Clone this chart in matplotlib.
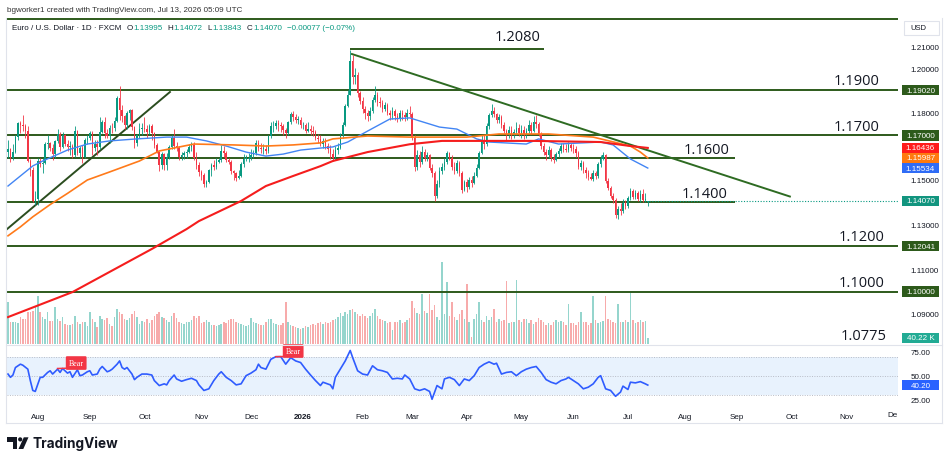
import numpy as np
import matplotlib.pyplot as plt
from matplotlib.patches import Rectangle, Polygon, Circle

plt.rcParams['font.family'] = ['Liberation Sans', 'DejaVu Sans']

# EUR/USD daily bars, Jul 16 2025 .. Jul 13 2026 (x axis = bar number)
opens = [
    1.1625, 1.1640, 1.1597, 1.1626, 1.1693, 1.1754, 1.1744, 1.1742, 1.1720, 1.1587, 1.1545, 1.1404,
    1.1415, 1.1587, 1.1571, 1.1575, 1.1660, 1.1665, 1.1642, 1.1617, 1.1676, 1.1705, 1.1647, 1.1703, 1.1662, 1.1648, 1.1650, 1.1610, 1.1718, 1.1622, 1.1641, 1.1605, 1.1681,
    1.1686, 1.1710, 1.1641, 1.1660, 1.1647, 1.1717, 1.1760, 1.1710, 1.1696, 1.1735, 1.1733, 1.1763, 1.1867, 1.1814, 1.1787, 1.1745, 1.1800, 1.1815, 1.1737, 1.1665, 1.1702, 1.1727,
    1.1734, 1.1730, 1.1716, 1.1740, 1.1710, 1.1658, 1.1627, 1.1565, 1.1617, 1.1569, 1.1605, 1.1647, 1.1689, 1.1653, 1.1643, 1.1602, 1.1610, 1.1619, 1.1627, 1.1646, 1.1658, 1.1600, 1.1566,
    1.1535, 1.1521, 1.1483, 1.1493, 1.1545, 1.1565, 1.1560, 1.1580, 1.1590, 1.1630, 1.1620, 1.1590, 1.1580, 1.1540, 1.1530, 1.1510, 1.1520, 1.1570, 1.1595, 1.1595,
    1.1600, 1.1610, 1.1620, 1.1665, 1.1645, 1.1640, 1.1640, 1.1630, 1.1695, 1.1740, 1.1740, 1.1755, 1.1745, 1.1740, 1.1725, 1.1710, 1.1760, 1.1795, 1.1780, 1.1770, 1.1770, 1.1745, 1.1745,
    1.1720, 1.1730, 1.1720, 1.1715, 1.1690, 1.1685, 1.1660, 1.1675, 1.1650, 1.1640, 1.1615, 1.1600, 1.1635, 1.1645, 1.1700, 1.1745, 1.1830, 1.1880, 1.2035, 1.1960, 1.1970, 1.1890,
    1.1855, 1.1820, 1.1800, 1.1785, 1.1810, 1.1860, 1.1880, 1.1850, 1.1845, 1.1820, 1.1835, 1.1800, 1.1790, 1.1810, 1.1785, 1.1775, 1.1800, 1.1790, 1.1780, 1.1800,
    1.1795, 1.1690, 1.1560, 1.1610, 1.1580, 1.1625, 1.1600, 1.1610, 1.1555, 1.1530, 1.1430, 1.1480, 1.1540, 1.1560, 1.1580, 1.1620, 1.1600, 1.1560, 1.1540, 1.1575, 1.1530, 1.1455,
    1.1490, 1.1470, 1.1500, 1.1485, 1.1520, 1.1555, 1.1620, 1.1680, 1.1660, 1.1740, 1.1790, 1.1810, 1.1795, 1.1770, 1.1780, 1.1745, 1.1720, 1.1700, 1.1725, 1.1700, 1.1715, 1.1735,
    1.1710, 1.1725, 1.1700, 1.1720, 1.1745, 1.1720, 1.1760, 1.1750, 1.1705, 1.1650, 1.1625, 1.1610, 1.1635, 1.1600, 1.1590, 1.1615, 1.1630, 1.1650, 1.1640, 1.1635, 1.1655,
    1.1645, 1.1640, 1.1620, 1.1560, 1.1575, 1.1545, 1.1530, 1.1515, 1.1505, 1.1530, 1.1520, 1.1570, 1.1595, 1.1610, 1.1495, 1.1465, 1.1430, 1.1410, 1.1345, 1.1370, 1.1360, 1.1395,
    1.1385, 1.1420, 1.1450, 1.1425, 1.1440, 1.1415, 1.1435, 1.1410, 1.13995,
]
highs = [
    1.1680, 1.1645, 1.1660, 1.1700, 1.1760, 1.1765, 1.1789, 1.1750, 1.1740, 1.1595, 1.1560, 1.1450,
    1.1600, 1.1600, 1.1600, 1.1670, 1.1700, 1.1670, 1.1660, 1.1680, 1.1730, 1.1715, 1.1715, 1.1705, 1.1680, 1.1675, 1.1660, 1.1740, 1.1725, 1.1650, 1.1655, 1.1690, 1.1700,
    1.1720, 1.1720, 1.1680, 1.1680, 1.1780, 1.1770, 1.1780, 1.1730, 1.1745, 1.1755, 1.1780, 1.1878, 1.1919, 1.1835, 1.1790, 1.1810, 1.1820, 1.1820, 1.1740, 1.1705, 1.1755, 1.1755,
    1.1780, 1.1745, 1.1750, 1.1750, 1.1715, 1.1665, 1.1630, 1.1625, 1.1620, 1.1620, 1.1655, 1.1700, 1.1728, 1.1670, 1.1650, 1.1625, 1.1630, 1.1640, 1.1660, 1.1670, 1.1670, 1.1625, 1.1580,
    1.1545, 1.1530, 1.1500, 1.1550, 1.1575, 1.1590, 1.1600, 1.1600, 1.1655, 1.1650, 1.1630, 1.1600, 1.1590, 1.1545, 1.1535, 1.1545, 1.1580, 1.1615, 1.1610, 1.1620,
    1.1640, 1.1635, 1.1680, 1.1680, 1.1665, 1.1660, 1.1655, 1.1700, 1.1760, 1.1765, 1.1770, 1.1770, 1.1760, 1.1750, 1.1735, 1.1765, 1.1805, 1.1808, 1.1795, 1.1785, 1.1780, 1.1760, 1.1755,
    1.1760, 1.1745, 1.1740, 1.1725, 1.1705, 1.1700, 1.1690, 1.1690, 1.1665, 1.1655, 1.1640, 1.1650, 1.1665, 1.1710, 1.1760, 1.1840, 1.1905, 1.2082, 1.2060, 1.2000, 1.1985, 1.1900,
    1.1870, 1.1830, 1.1815, 1.1825, 1.1870, 1.1920, 1.1895, 1.1870, 1.1860, 1.1850, 1.1845, 1.1815, 1.1825, 1.1820, 1.1800, 1.1815, 1.1815, 1.1805, 1.1820, 1.1830,
    1.1805, 1.1700, 1.1635, 1.1630, 1.1650, 1.1640, 1.1625, 1.1615, 1.1570, 1.1540, 1.1500, 1.1560, 1.1575, 1.1600, 1.1630, 1.1625, 1.1610, 1.1580, 1.1590, 1.1585, 1.1540, 1.1500,
    1.1505, 1.1515, 1.1520, 1.1535, 1.1570, 1.1630, 1.1700, 1.1700, 1.1755, 1.1800, 1.1840, 1.1825, 1.1800, 1.1795, 1.1790, 1.1760, 1.1730, 1.1740, 1.1740, 1.1730, 1.1760, 1.1750,
    1.1745, 1.1740, 1.1735, 1.1770, 1.1760, 1.1785, 1.1790, 1.1760, 1.1715, 1.1665, 1.1640, 1.1650, 1.1645, 1.1615, 1.1625, 1.1645, 1.1665, 1.1665, 1.1660, 1.1670, 1.1665,
    1.1660, 1.1650, 1.1630, 1.1590, 1.1585, 1.1560, 1.1545, 1.1530, 1.1545, 1.1540, 1.1580, 1.1610, 1.1625, 1.1615, 1.1510, 1.1475, 1.1440, 1.1420, 1.1385, 1.1395, 1.1415, 1.1410,
    1.1430, 1.1465, 1.1460, 1.1455, 1.1450, 1.1455, 1.1460, 1.1440, 1.14072,
]
lows = [
    1.1600, 1.1580, 1.1590, 1.1620, 1.1680, 1.1710, 1.1720, 1.1690, 1.1580, 1.1520, 1.1400, 1.1390,
    1.1390, 1.1560, 1.1530, 1.1570, 1.1640, 1.1630, 1.1590, 1.1600, 1.1665, 1.1630, 1.1645, 1.1650, 1.1630, 1.1610, 1.1600, 1.1605, 1.1610, 1.1600, 1.1575, 1.1600, 1.1660,
    1.1680, 1.1610, 1.1630, 1.1610, 1.1640, 1.1710, 1.1690, 1.1690, 1.1665, 1.1710, 1.1720, 1.1760, 1.1770, 1.1760, 1.1730, 1.1730, 1.1770, 1.1725, 1.1645, 1.1650, 1.1690, 1.1700,
    1.1715, 1.1690, 1.1705, 1.1680, 1.1645, 1.1620, 1.1540, 1.1550, 1.1545, 1.1545, 1.1595, 1.1640, 1.1640, 1.1630, 1.1590, 1.1590, 1.1595, 1.1600, 1.1620, 1.1630, 1.1590, 1.1550, 1.1520,
    1.1500, 1.1470, 1.1470, 1.1485, 1.1520, 1.1545, 1.1550, 1.1575, 1.1580, 1.1605, 1.1580, 1.1570, 1.1525, 1.1500, 1.1495, 1.1505, 1.1515, 1.1560, 1.1585, 1.1580,
    1.1590, 1.1600, 1.1610, 1.1630, 1.1620, 1.1615, 1.1615, 1.1620, 1.1690, 1.1715, 1.1730, 1.1720, 1.1715, 1.1700, 1.1690, 1.1700, 1.1750, 1.1765, 1.1755, 1.1750, 1.1735, 1.1730, 1.1710,
    1.1715, 1.1700, 1.1695, 1.1680, 1.1665, 1.1650, 1.1645, 1.1640, 1.1620, 1.1595, 1.1585, 1.1590, 1.1615, 1.1640, 1.1690, 1.1740, 1.1825, 1.1880, 1.1930, 1.1930, 1.1870, 1.1840,
    1.1800, 1.1775, 1.1765, 1.1770, 1.1800, 1.1850, 1.1830, 1.1825, 1.1805, 1.1810, 1.1790, 1.1770, 1.1775, 1.1770, 1.1760, 1.1765, 1.1770, 1.1765, 1.1770, 1.1780,
    1.1680, 1.1540, 1.1545, 1.1560, 1.1570, 1.1585, 1.1585, 1.1545, 1.1515, 1.1406, 1.1420, 1.1470, 1.1525, 1.1545, 1.1570, 1.1590, 1.1545, 1.1525, 1.1530, 1.1520, 1.1440, 1.1450,
    1.1445, 1.1460, 1.1470, 1.1480, 1.1515, 1.1550, 1.1615, 1.1640, 1.1650, 1.1730, 1.1780, 1.1780, 1.1755, 1.1755, 1.1735, 1.1710, 1.1680, 1.1690, 1.1685, 1.1690, 1.1700, 1.1695,
    1.1690, 1.1685, 1.1690, 1.1710, 1.1705, 1.1715, 1.1735, 1.1695, 1.1640, 1.1610, 1.1590, 1.1600, 1.1585, 1.1575, 1.1585, 1.1605, 1.1620, 1.1625, 1.1625, 1.1625, 1.1630,
    1.1620, 1.1605, 1.1550, 1.1545, 1.1530, 1.1510, 1.1500, 1.1500, 1.1495, 1.1505, 1.1510, 1.1560, 1.1590, 1.1485, 1.1455, 1.1420, 1.1395, 1.1330, 1.1325, 1.1345, 1.1350, 1.1370,
    1.1375, 1.1410, 1.1415, 1.1415, 1.1405, 1.1400, 1.1400, 1.1400, 1.13843,
]
closes = [
    1.1640, 1.1597, 1.1626, 1.1693, 1.1754, 1.1744, 1.1742, 1.1720, 1.1587, 1.1545, 1.1404, 1.1415,
    1.1587, 1.1571, 1.1575, 1.1660, 1.1665, 1.1642, 1.1617, 1.1676, 1.1705, 1.1647, 1.1703, 1.1662, 1.1648, 1.1650, 1.1610, 1.1718, 1.1622, 1.1641, 1.1605, 1.1681, 1.1686,
    1.1710, 1.1641, 1.1660, 1.1647, 1.1717, 1.1760, 1.1710, 1.1696, 1.1735, 1.1733, 1.1763, 1.1867, 1.1814, 1.1787, 1.1745, 1.1800, 1.1815, 1.1737, 1.1665, 1.1702, 1.1727, 1.1734,
    1.1730, 1.1716, 1.1740, 1.1710, 1.1658, 1.1627, 1.1565, 1.1617, 1.1569, 1.1605, 1.1647, 1.1689, 1.1653, 1.1643, 1.1602, 1.1610, 1.1619, 1.1627, 1.1646, 1.1658, 1.1600, 1.1566, 1.1535,
    1.1521, 1.1483, 1.1493, 1.1545, 1.1565, 1.1560, 1.1580, 1.1590, 1.1630, 1.1620, 1.1590, 1.1580, 1.1540, 1.1530, 1.1510, 1.1520, 1.1570, 1.1595, 1.1595, 1.1600,
    1.1610, 1.1620, 1.1665, 1.1645, 1.1640, 1.1640, 1.1630, 1.1695, 1.1740, 1.1740, 1.1755, 1.1745, 1.1740, 1.1725, 1.1710, 1.1760, 1.1795, 1.1780, 1.1770, 1.1770, 1.1745, 1.1745, 1.1720,
    1.1730, 1.1720, 1.1715, 1.1690, 1.1685, 1.1660, 1.1675, 1.1650, 1.1640, 1.1615, 1.1600, 1.1635, 1.1645, 1.1700, 1.1745, 1.1830, 1.1880, 1.2035, 1.1960, 1.1970, 1.1890, 1.1855,
    1.1820, 1.1800, 1.1785, 1.1810, 1.1860, 1.1880, 1.1850, 1.1845, 1.1820, 1.1835, 1.1800, 1.1790, 1.1810, 1.1785, 1.1775, 1.1800, 1.1790, 1.1780, 1.1800, 1.1795,
    1.1690, 1.1560, 1.1610, 1.1580, 1.1625, 1.1600, 1.1610, 1.1555, 1.1530, 1.1430, 1.1480, 1.1540, 1.1560, 1.1580, 1.1620, 1.1600, 1.1560, 1.1540, 1.1575, 1.1530, 1.1455, 1.1490,
    1.1470, 1.1500, 1.1485, 1.1520, 1.1555, 1.1620, 1.1680, 1.1660, 1.1740, 1.1790, 1.1810, 1.1795, 1.1770, 1.1780, 1.1745, 1.1720, 1.1700, 1.1725, 1.1700, 1.1715, 1.1735, 1.1710,
    1.1725, 1.1700, 1.1720, 1.1745, 1.1720, 1.1760, 1.1750, 1.1705, 1.1650, 1.1625, 1.1610, 1.1635, 1.1600, 1.1590, 1.1615, 1.1630, 1.1650, 1.1640, 1.1635, 1.1655, 1.1645,
    1.1640, 1.1620, 1.1560, 1.1575, 1.1545, 1.1530, 1.1515, 1.1505, 1.1530, 1.1520, 1.1570, 1.1595, 1.1610, 1.1495, 1.1465, 1.1430, 1.1410, 1.1345, 1.1370, 1.1360, 1.1395, 1.1385,
    1.1420, 1.1450, 1.1425, 1.1440, 1.1415, 1.1435, 1.1410, 1.1415, 1.1407,
]
# volume, thousands
volume_k = [
    281, 150, 150, 145, 140, 180, 168, 168, 214, 214, 224, 245,
    322, 214, 180, 168, 214, 157, 157, 245, 168, 157, 180, 134, 127, 127, 134, 190, 150, 134, 145, 145, 123,
    214, 168, 145, 112, 190, 168, 161, 172, 134, 123, 180, 235, 214, 201, 168, 161, 172, 201, 224, 180, 134, 157,
    150, 165, 140, 160, 190, 200, 215, 180, 175, 160, 150, 190, 205, 175, 150, 140, 135, 145, 150, 160, 185, 175, 190,
    140, 150, 160, 150, 130, 125, 120, 125, 135, 150, 140, 160, 165, 170, 150, 140, 135, 130, 120, 125,
    175, 150, 140, 135, 130, 130, 150, 170, 165, 140, 135, 130, 125, 140, 281, 150, 130, 120, 115, 105, 100, 110, 120,
    115, 125, 135, 130, 140, 150, 135, 145, 140, 150, 160, 170, 180, 205, 190, 215, 200, 225, 235, 215, 200, 190,
    200, 185, 175, 190, 210, 235, 190, 170, 160, 155, 140, 150, 95, 150, 145, 160, 140, 150, 160, 175,
    290, 240, 210, 200, 335, 220, 205, 335, 230, 260, 180, 160, 549, 200, 415, 190, 280, 180, 160, 200, 230, 170,
    402, 150, 50, 170, 200, 281, 160, 150, 190, 160, 180, 235, 150, 165, 155, 160, 422, 140, 150, 145, 429, 160,
    150, 165, 170, 140, 160, 135, 150, 175, 160, 145, 130, 140, 125, 150, 160, 145, 155, 150, 130, 268, 140,
    140, 130, 150, 214, 145, 150, 130, 140, 322, 160, 140, 150, 155, 322, 170, 160, 150, 140, 268, 150, 145, 160,
    150, 342, 160, 140, 145, 163, 145, 155, 40.22,
]

rsi_bars = [0, 1, 2, 3, 5, 6, 8, 9, 10, 11, 13, 14, 16, 17, 18, 20, 21, 22, 24, 25, 26, 28, 29, 30, 32, 33, 34, 36,
            37, 38, 40, 41, 42, 44, 45, 46, 47, 48, 50, 51, 52, 54, 56, 58, 59, 61, 63, 64, 65, 67, 68, 70, 72, 74,
            76, 77, 79, 81, 83, 85, 86, 88, 90, 92, 94, 96, 98, 100, 101, 102, 104, 106, 108, 110, 112, 114, 116,
            118, 120, 122, 124, 126, 127, 130, 131, 132, 134, 136, 138, 139, 141, 143, 145, 147, 149, 151, 153, 155,
            157, 159, 160, 162, 164, 166, 168, 170, 171, 173, 175, 176, 178, 180, 182, 184, 186, 188, 190, 192, 194,
            196, 197, 199, 201, 203, 205, 207, 209, 211, 213, 215, 217, 219, 221, 223, 225, 226, 228, 230, 232, 234,
            236, 238, 239, 241, 243, 245, 247, 248, 250, 251, 253, 255, 257, 258]
rsi_vals = [51.7, 48.3, 50.7, 58.5, 62.0, 60.9, 56.8, 44.9, 34.6, 33.6, 48.3, 48.3, 53.4, 55.1, 51.7, 56.8, 53.4, 57.5,
            52.7, 54.1, 48.3, 56.2, 50.0, 50.7, 54.1, 55.1, 50.7, 51.7, 56.8, 59.6, 54.1, 55.1, 56.8, 62.0, 65.4, 58.5,
            56.8, 58.5, 51.7, 45.9, 48.3, 51.7, 51.7, 50.7, 44.9, 39.7, 41.5, 40.4, 44.9, 50.7, 46.6, 44.2, 45.9, 47.3,
            44.9, 40.4, 34.6, 36.3, 44.9, 51.7, 54.1, 48.3, 44.9, 40.4, 41.5, 50.0, 52.7, 56.2, 62.0, 58.5, 56.8, 67.1,
            69.8, 69.8, 62.0, 68.8, 65.4, 63.7, 56.8, 50.7, 44.9, 39.7, 43.2, 40.4, 36.3, 48.3, 56.8, 65.4, 76.3, 68.8,
            55.1, 51.7, 50.7, 60.3, 56.2, 55.1, 53.4, 46.6, 47.3, 46.6, 50.7, 46.6, 36.3, 34.6, 36.3, 33.6, 25.4, 39.7,
            36.3, 46.6, 48.3, 45.9, 39.7, 46.6, 44.9, 50.0, 58.5, 62.0, 64.4, 62.0, 63.0, 51.7, 53.4, 54.1, 50.0, 54.1,
            56.8, 58.5, 59.6, 53.4, 45.9, 43.2, 41.5, 44.9, 46.6, 48.3, 44.9, 41.5, 36.3, 38.0, 41.5, 48.3, 50.0, 36.3,
            34.6, 28.5, 32.9, 39.1, 35.6, 43.2, 42.5, 43.8, 41.5, 40.2]

ma50_bars = [0, 5, 10, 14, 24, 32, 41, 52, 64, 72, 80, 88, 96, 104, 111, 118, 126, 131, 137, 145, 154, 162, 174, 181,
             189, 194, 209, 214, 222, 239, 244, 251, 258]
ma50_vals = [1.1473, 1.1518, 1.1563, 1.1585, 1.1634, 1.1661, 1.1675, 1.1684, 1.1692, 1.1692, 1.1675, 1.1652, 1.1625,
             1.1607, 1.1616, 1.1634, 1.1643, 1.1648, 1.1670, 1.1719, 1.1773, 1.1778, 1.1737, 1.1728, 1.1684, 1.1670,
             1.1661, 1.1684, 1.1661, 1.1670, 1.1657, 1.1594, 1.15534]
ma100_bars = [0, 5, 10, 17, 24, 32, 41, 53, 61, 75, 91, 104, 115, 126, 131, 145, 162, 185, 198, 218, 236, 251, 255, 258]
ma100_vals = [1.1250, 1.1290, 1.1335, 1.1390, 1.1440, 1.1500, 1.1536, 1.1585, 1.1630, 1.1661, 1.1657, 1.1652, 1.1657,
              1.1666, 1.1684, 1.1697, 1.1692, 1.1692, 1.1706, 1.1706, 1.1692, 1.1652, 1.1625, 1.15987]
ma200_bars = [0, 26, 58, 72, 77, 94, 104, 115, 126, 131, 145, 162, 175, 198, 212, 239, 251, 258]
ma200_vals = [1.0886, 1.0998, 1.1191, 1.1280, 1.1316, 1.1406, 1.1473, 1.1518, 1.1562, 1.1585, 1.1625, 1.1660, 1.1675,
              1.1675, 1.1675, 1.1670, 1.1652, 1.16436]

month_bars = [12, 33, 55, 78, 98, 119, 143, 163, 185, 207, 228, 250, 273, 294, 316, 338]
month_names = ['Aug', 'Sep', 'Oct', 'Nov', 'Dec', '2026', 'Feb', 'Mar', 'Apr', 'May', 'Jun', 'Jul',
               'Aug', 'Sep', 'Oct', 'Nov']

price_ticks = [1.21, 1.20, 1.18, 1.15, 1.13, 1.11, 1.09]
full_levels = [1.2221, 1.1902, 1.1700, 1.12041, 1.1000]
short_levels = [1.1600, 1.1400]
level_texts = ['1.2080', '1.1900', '1.1700', '1.1600', '1.1400', '1.1200', '1.1000', '1.0775']
level_text_bars = [214.9, 351.6, 351.6, 291.1, 290.3, 353.6, 353.6, 354.4]
level_text_prices = [1.21425, 1.19477, 1.17395, 1.16343, 1.14417, 1.12491, 1.10387, 1.08058]

GREEN = '#2d5a1b'
UP, DOWN = '#089981', '#f23645'
TEAL = '#089981'
INK = '#131722'

W, H = 949, 464
fig = plt.figure(figsize=(W / 100, H / 100), dpi=100)


def px_rect(x0, y0, x1, y1):
    return [x0 / W, 1 - y1 / H, (x1 - x0) / W, (y1 - y0) / H]


XLIM = (-0.4, 358.9)
ax_v = fig.add_axes(px_rect(7, 19, 898, 345))
ax_p = fig.add_axes(px_rect(7, 19, 898, 345))
ax_r = fig.add_axes(px_rect(7, 346, 898, 402))
ov = fig.add_axes([0, 0, 1, 1])
ov.set_xlim(0, W)
ov.set_ylim(H, 0)
ov.axis('off')
ov.set_zorder(10)

for a in (ax_v, ax_p, ax_r):
    a.set_xlim(*XLIM)
    for s in a.spines.values():
        s.set_visible(False)
ax_p.patch.set_alpha(0)
ax_v.axis('off')
ax_v.set_ylim(0, 2184)
ax_p.set_ylim(1.07655, 1.22254)

o = np.array(opens)
h = np.array(highs)
l = np.array(lows)
c = np.array(closes)
v = np.array(volume_k)
n = len(c)
x = np.arange(n)
up = c >= o

# volume underlay
ax_v.bar(x, v, width=0.62, color=np.where(up, '#95d5cd', '#f7abab'), lw=0)

# candles
ccol = np.where(up, UP, DOWN)
ax_p.vlines(x, l, h, colors=ccol, lw=0.6, zorder=3)
ax_p.bar(x, np.maximum(np.abs(c - o), 0.00015), bottom=np.minimum(o, c), width=0.62,
         color=ccol, lw=0, zorder=3)

# moving averages
ax_p.plot(ma50_bars, ma50_vals, color='#4285f4', lw=1.0, zorder=4)
ax_p.plot(ma100_bars, ma100_vals, color='#ff7a1a', lw=1.2, zorder=4)
ax_p.plot(ma200_bars, ma200_vals, color='#f51d1d', lw=1.5, zorder=4)

# drawn levels and trend lines
for lv in full_levels:
    ax_p.axhline(lv, color=GREEN, lw=1.4, zorder=2)
for lv in short_levels:
    ax_p.hlines(lv, XLIM[0], 293, color=GREEN, lw=1.4, zorder=2)
ax_p.hlines(1.2088, 138, 216, color=GREEN, lw=1.4, zorder=2)
ax_p.plot([-0.4, 65.3], [1.1280, 1.1894], color='#2b4d1f', lw=1.4, zorder=2)
ax_p.plot([138.7, 315.3], [1.2064, 1.1426], color='#2e6b22', lw=1.4, zorder=2)
ax_p.hlines(c[-1], n - 0.5, XLIM[1], colors=TEAL, linestyles=(0, (1, 1.5)), lw=0.8)

for t, bx, pyv in zip(level_texts, level_text_bars, level_text_prices):
    ax_p.text(bx, pyv, t, ha='right', va='center', fontsize=10.5, family='Open Sans', color=INK)

ax_p.yaxis.tick_right()
ax_p.set_yticks(price_ticks)
ax_p.set_yticklabels([f'{t:.5f}' for t in price_ticks])
ax_p.tick_params(axis='y', length=0, pad=9, labelsize=5.8, labelcolor=INK)
ax_p.tick_params(axis='x', length=0, labelbottom=False)

# RSI pane
ax_r.set_ylim(23.6, 82)
ax_r.axhspan(30, 70, color='#e8f2fd', lw=0, zorder=0)
for lv in (70, 50, 30):
    ax_r.axhline(lv, color='#b8bcc6', lw=0.7, ls=(0, (1, 1.5)), zorder=1)
ax_r.plot(rsi_bars, rsi_vals, color='#2f5cff', lw=1.2, zorder=3)
ax_r.plot([20, 24], [57.5, 57.8], color=DOWN, lw=1.1, zorder=3)
ax_r.plot([108, 111], [69.8, 70.0], color=DOWN, lw=1.1, zorder=3)
for bx, rv in [(27.5, 63.2), (115.0, 75.7)]:
    ax_r.text(bx, rv, 'Bear', ha='center', va='center', color='white', fontsize=5.8,
              family='Liberation Serif', zorder=5,
              bbox=dict(boxstyle='round,pad=0.35,rounding_size=0.15', fc=DOWN, ec='none'))
ax_r.yaxis.tick_right()
ax_r.set_yticks([75, 50, 25])
ax_r.set_yticklabels(['75.00', '50.00', '25.00'])
ax_r.tick_params(axis='y', length=0, pad=9, labelsize=5.8, labelcolor=INK)
ax_r.set_xticks(month_bars)
ax_r.set_xticklabels(month_names)
ax_r.tick_params(axis='x', length=0, pad=8.5, labelsize=5.8, labelcolor=INK)
for lab in ax_r.get_xticklabels():
    if lab.get_text() == '2026':
        lab.set_fontweight('bold')
ov.text(893, 416, 'De', ha='center', va='center', fontsize=5.8, color=INK)


def py(ax, val):
    return H - ax.transData.transform((0, val))[1]


def axis_box(yc, text, fc):
    ov.add_patch(Rectangle((902, yc - 5.2), 37, 10.4, fc=fc, ec='none'))
    ov.text(920.5, yc, text, ha='center', va='center', color='white', fontsize=5.8)


for val, col in [(1.19020, GREEN), (1.17000, GREEN), (1.16436, '#ff1c1c'), (1.15987, '#ff7a0f'),
                 (1.15534, '#2f6cf6'), (c[-1], '#12957f'), (1.12041, GREEN), (1.10000, GREEN)]:
    axis_box(py(ax_p, val), f'{val:.5f}', col)
axis_box(py(ax_v, v[-1]), f'{v[-1]:.2f} K', '#22ab94')
axis_box(py(ax_r, rsi_vals[-1]), f'{rsi_vals[-1]:.2f}', '#2962ff')

# USD tag
ov.add_patch(Rectangle((904.5, 21.5), 35, 14, fc='white', ec='#e0e3eb', lw=0.8))
ov.text(910, 29, 'USD', ha='left', va='center', fontsize=5.5, color=INK)

# frame
BORDER = '#e0e3eb'
ov.plot([6.5, 6.5], [19, 424], color=BORDER, lw=0.8)
ov.plot([6, 942], [424, 424], color=BORDER, lw=0.8)
ov.plot([942, 942], [19, 424], color=BORDER, lw=0.8)
ov.plot([6, 942], [345.5, 345.5], color=BORDER, lw=0.8)

# header
ov.text(7, 10, 'bgworker1 created with TradingView.com, Jul 13, 2026 05:09 UTC',
        ha='left', va='center', fontsize=5.8, color='#333333')
renderer = fig.canvas.get_renderer()
pieces = [('Euro / U.S. Dollar · 1D · FXCM', INK, 5), ('O', INK, 0.5), ('1.13995', TEAL, 5),
          ('H', INK, 0.5), ('1.14072', TEAL, 5), ('L', INK, 0.5), ('1.13843', TEAL, 5),
          ('C', INK, 0.5), ('1.14070', TEAL, 5), ('−0.00077 (−0.07%)', TEAL, 0)]
cx = 12
for s, col, gap in pieces:
    t = ov.text(cx, 28, s, ha='left', va='center', fontsize=5.8, color=col)
    cx += t.get_window_extent(renderer).width + gap

# logo
ov.add_patch(Polygon([(7.3, 438.3), (17.5, 438.3), (17.5, 450), (13, 450), (13, 442.5), (7.3, 442.5)],
                     closed=True, fc=INK, ec='none'))
ov.add_patch(Circle((20.2, 440.4), 2.1, fc=INK, ec='none'))
ov.add_patch(Polygon([(18.5, 450), (23.8, 438.3), (28.5, 438.3), (23.3, 450)], closed=True, fc=INK, ec='none'))
ov.text(33, 444, 'TradingView', ha='left', va='center', fontsize=9.8, family='Inter',
        fontweight='bold', color=INK)

fig.savefig('out.png', dpi=100)
